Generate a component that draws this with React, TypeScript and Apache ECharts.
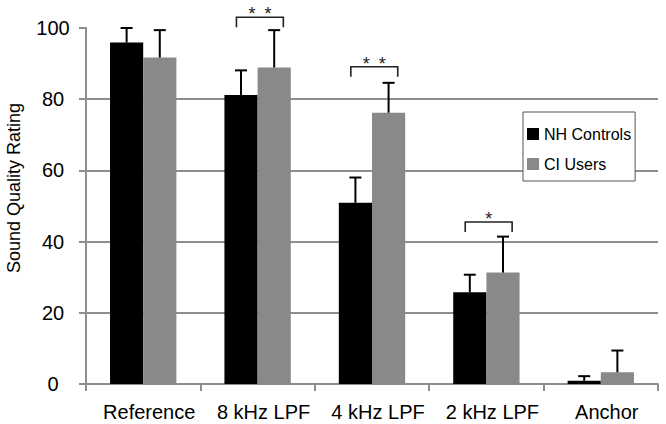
import React, { useEffect, useRef } from "react";
import * as echarts from "echarts";

const categories = ["Reference", "8 kHz LPF", "4 kHz LPF", "2 kHz LPF", "Anchor"];
const nhMeans = [95.9, 81.2, 50.9, 25.8, 0.9];
const nhErrTop = [100.0, 88.1, 58.0, 30.7, 2.2];
const ciMeans = [91.7, 88.9, 76.2, 31.3, 3.3];
const ciErrTop = [99.4, 99.4, 84.6, 41.4, 9.4];
const sigCategory = [1, 2, 3];
const sigTop = [103, 89.1, 45.5];
const sigStars = [2, 2, 1];
const yTicks = [0, 20, 40, 60, 80, 100];

const FONT = "'Liberation Sans', Arial, Helvetica, sans-serif";
const BAR_RATIO = 0.29;

function errorRender(side: number) {
  return (params: any, api: any) => {
    const cat = api.value(0);
    const base = api.value(1);
    const top = api.value(2);
    const band = api.size([1, 0])[0];
    const off = side * band * BAR_RATIO * 0.5;
    const p0 = api.coord([cat, base]);
    const p1 = api.coord([cat, top]);
    const x = p0[0] + off;
    const half = 6;
    return {
      type: "group",
      children: [
        { type: "line", shape: { x1: x, y1: p0[1], x2: x, y2: p1[1] }, style: { stroke: "#000", lineWidth: 2 } },
        { type: "line", shape: { x1: x - half, y1: p1[1], x2: x + half, y2: p1[1] }, style: { stroke: "#000", lineWidth: 2 } },
      ],
    };
  };
}

function bracketRender(params: any, api: any) {
  const cat = api.value(0);
  const top = api.value(1);
  const stars = api.value(2);
  const band = api.size([1, 0])[0];
  const p = api.coord([cat, top]);
  const cx = p[0] + band * 0.02;
  const half = band * 0.205;
  const y = p[1];
  const children: any[] = [
    {
      type: "polyline",
      shape: { points: [[cx - half, y + 10], [cx - half, y], [cx + half, y], [cx + half, y + 10]] },
      style: { stroke: "#222", lineWidth: 1.6, fill: null },
    },
  ];
  for (let i = 0; i < stars; i++) {
    const sx = cx + (i - (stars - 1) / 2) * 16;
    children.push({
      type: "text",
      x: sx,
      y: y - 3,
      style: { text: "*", fontSize: 18, fontFamily: FONT, fill: "#222", align: "center", verticalAlign: "middle" },
    });
  }
  return { type: "group", children };
}

export default function App() {
  const ref = useRef<HTMLDivElement>(null);
  useEffect(() => {
    if (!ref.current) return;
    const chart = echarts.init(ref.current, null, { renderer: "svg" });
    chart.setOption({
      animation: false,
      backgroundColor: "#fff",
      textStyle: { fontFamily: FONT },
      grid: { left: 86, right: 8, top: 28, bottom: 40 },
      legend: {
        data: ["NH Controls", "CI Users"],
        orient: "vertical",
        left: 523,
        top: 112,
        icon: "rect",
        itemWidth: 12,
        itemHeight: 12,
        itemGap: 14,
        padding: [14, 4, 9, 4],
        borderColor: "#555",
        borderWidth: 1,
        backgroundColor: "#fff",
        textStyle: { fontSize: 16, color: "#000", fontFamily: FONT },
      },
      graphic: [
        {
          type: "text",
          x: 13.5,
          y: 188,
          rotation: Math.PI / 2,
          style: {
            text: "Sound Quality Rating",
            fontSize: 18,
            fontFamily: FONT,
            fill: "#000",
            align: "center",
            verticalAlign: "middle",
          },
        },
      ],
      xAxis: {
        type: "category",
        data: categories,
        axisLine: { lineStyle: { color: "#8e8e8e", width: 2 } },
        axisTick: { show: true, length: 7, lineStyle: { color: "#8e8e8e", width: 2 } },
        axisLabel: { interval: 0, fontSize: 20, color: "#000", margin: 18, fontFamily: FONT, padding: [0, 0, 0, 12] },
      },
      yAxis: {
        type: "value",
        min: 0,
        max: 100,
        interval: 20,
        axisLine: { show: true, lineStyle: { color: "#8e8e8e", width: 2 } },
        axisTick: { show: true, length: 7, lineStyle: { color: "#8e8e8e", width: 2 } },
        axisLabel: {
          fontSize: 20,
          color: "#000",
          align: "center",
          margin: 33,
          fontFamily: FONT,
          formatter: (v: number) => (yTicks.includes(v) ? String(v) : ""),
        },
        splitLine: { show: true, showMaxLine: false, lineStyle: { color: "#8e8e8e", width: 2 } },
      },
      series: [
        {
          name: "NH Controls",
          type: "bar",
          data: nhMeans,
          barWidth: "29%",
          barGap: "0%",
          itemStyle: { color: "#000" },
        },
        {
          name: "CI Users",
          type: "bar",
          data: ciMeans,
          barWidth: "29%",
          barGap: "0%",
          itemStyle: { color: "#898989" },
        },
        {
          type: "custom",
          renderItem: errorRender(-1),
          data: nhMeans.map((m, i) => [i, m, nhErrTop[i]]),
          encode: { x: 0, y: [1, 2] },
          z: 5,
          silent: true,
        },
        {
          type: "custom",
          renderItem: errorRender(1),
          data: ciMeans.map((m, i) => [i, m, ciErrTop[i]]),
          encode: { x: 0, y: [1, 2] },
          z: 5,
          silent: true,
        },
        {
          type: "custom",
          renderItem: bracketRender,
          data: sigCategory.map((c, i) => [c, sigTop[i], sigStars[i]]),
          encode: { x: 0, y: 1 },
          clip: false,
          z: 5,
          silent: true,
        },
      ],
    });
    return () => chart.dispose();
  }, []);
  return <div ref={ref} style={{ position: "fixed", left: 0, top: 0, width: 666, height: 424 }} />;
}
